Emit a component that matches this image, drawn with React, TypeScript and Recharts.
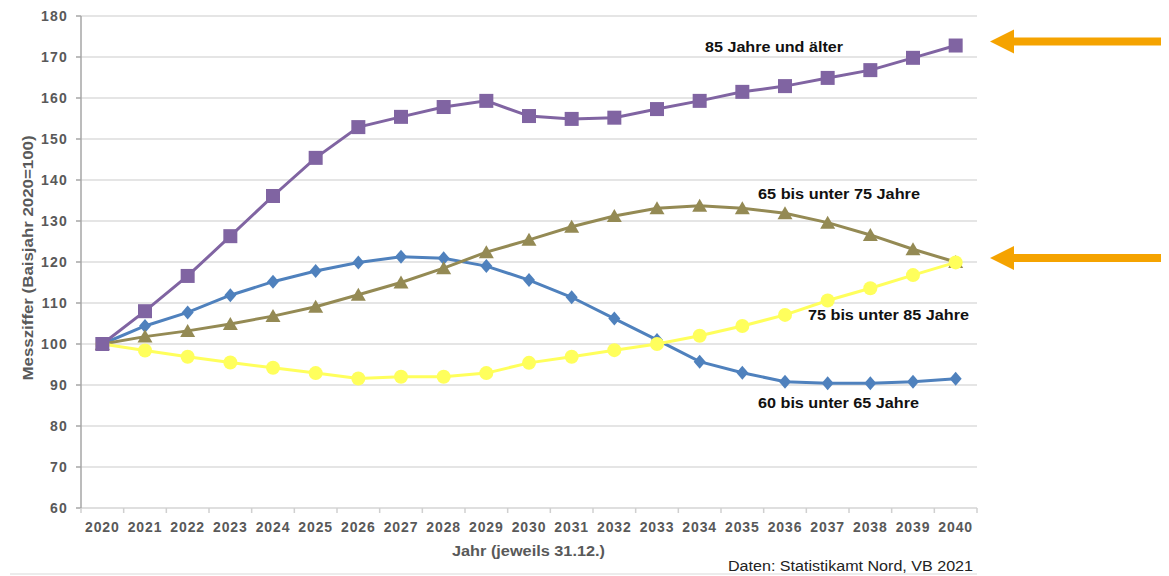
import React from 'react';
import { LineChart, Line, XAxis, YAxis, CartesianGrid } from 'recharts';

const years = ['2020','2021','2022','2023','2024','2025','2026','2027','2028','2029','2030','2031','2032','2033','2034','2035','2036','2037','2038','2039','2040'];
const s60bis65 = [100,104.4,107.7,111.9,115.2,117.8,119.9,121.3,120.9,119.0,115.6,111.4,106.2,101.0,95.7,93.0,90.8,90.4,90.4,90.8,91.5];
const s65bis75 = [100,101.8,103.2,104.9,106.8,109.1,112.0,115.0,118.5,122.4,125.4,128.6,131.2,133.1,133.7,133.1,131.9,129.6,126.6,123.1,120.0];
const s75bis85 = [100,98.4,96.9,95.5,94.2,92.9,91.6,92.0,92.0,92.9,95.4,96.9,98.5,100.0,102.0,104.4,107.1,110.6,113.6,116.8,119.9];
const s85plus = [100,108.0,116.6,126.3,136.1,145.4,152.9,155.4,157.8,159.3,155.6,154.9,155.2,157.3,159.3,161.5,162.9,164.9,166.8,169.8,172.8];
const yTicks = [60,70,80,90,100,110,120,130,140,150,160,170,180];

const data = years.map((y, i) => ({
  year: y,
  a: s60bis65[i],
  b: s65bis75[i],
  c: s75bis85[i],
  d: s85plus[i],
}));

const W = 1169;
const H = 576;
const PLOT_LEFT = 81;
const PLOT_RIGHT = 977;
const PLOT_TOP = 16;
const PLOT_BOTTOM = 508;
const BAND = (PLOT_RIGHT - PLOT_LEFT) / years.length;

const C_BLUE = '#4F81BD';
const C_OLIVE = '#948A54';
const C_YELLOW = '#FFFF5C';
const C_PURPLE = '#8064A2';
const C_ORANGE = '#F5A300';
const C_TEXT = '#595959';

const XTick = (props: any) => {
  const { x, y, payload, index } = props;
  return (
    <g>
      <line x1={x - BAND / 2} x2={x - BAND / 2} y1={y} y2={y + 5} stroke="#D0D0D0" strokeWidth={1.5} />
      {index === years.length - 1 && (
        <line x1={x + BAND / 2} x2={x + BAND / 2} y1={y} y2={y + 5} stroke="#D0D0D0" strokeWidth={1.5} />
      )}
      <text x={x} y={y + 19} textAnchor="middle" dominantBaseline="central" fill={C_TEXT}
        fontFamily="Liberation Sans, Arial, sans-serif" fontWeight="bold" fontSize={14} letterSpacing={0.9}>
        {payload.value}
      </text>
    </g>
  );
};

const YTick = (props: any) => {
  const { x, y, payload } = props;
  return (
    <text x={x} y={y} textAnchor="end" dominantBaseline="central" fill={C_TEXT}
      fontFamily="Liberation Sans, Arial, sans-serif" fontWeight="bold" fontSize={14} letterSpacing={1.2}>
      {payload.value}
    </text>
  );
};

const squareDot = (p: any) => (
  <rect key={`sq-${p.index}`} x={p.cx - 7} y={p.cy - 7} width={14} height={14} fill={C_PURPLE} />
);
const diamondDot = (p: any) => (
  <polygon key={`dm-${p.index}`} points={`${p.cx},${p.cy - 7} ${p.cx + 6},${p.cy} ${p.cx},${p.cy + 7} ${p.cx - 6},${p.cy}`} fill={C_BLUE} />
);
const triangleDot = (p: any) => (
  <polygon key={`tr-${p.index}`} points={`${p.cx},${p.cy - 7} ${p.cx + 7.5},${p.cy + 6} ${p.cx - 7.5},${p.cy + 6}`} fill={C_OLIVE} />
);
const circleDot = (p: any) => (
  <circle key={`ci-${p.index}`} cx={p.cx} cy={p.cy} r={7} fill={C_YELLOW} />
);

const labelStyle = {
  fontFamily: 'Liberation Sans, Arial, sans-serif',
  fontWeight: 'bold' as const,
  fontSize: 14,
};

const Arrow = ({ y }: { y: number }) => (
  <g>
    <rect x={1012} y={y - 4} width={149} height={8} fill={C_ORANGE} />
    <polygon points={`990,${y} 1014,${y - 12} 1014,${y + 12}`} fill={C_ORANGE} />
  </g>
);

export default function App() {
  return (
    <div style={{ position: 'absolute', left: 0, top: 0, width: W, height: H, background: '#fff' }}>
      <LineChart
        width={W}
        height={H}
        data={data}
        margin={{ top: PLOT_TOP, right: W - PLOT_RIGHT, bottom: 0, left: 0 }}
      >
        <CartesianGrid horizontal vertical={false} stroke="#DDDDDD" strokeWidth={1.5} />
        <XAxis
          dataKey="year"
          height={H - PLOT_BOTTOM}
          padding={{ left: BAND / 2, right: BAND / 2 }}
          axisLine={{ stroke: '#DDDDDD', strokeWidth: 1.5 }}
          tickLine={false}
          tickSize={0}
          tickMargin={0}
          interval={0}
          tick={<XTick />}
        />
        <YAxis
          width={PLOT_LEFT}
          domain={[60, 180]}
          ticks={yTicks}
          interval={0}
          axisLine={{ stroke: '#A6A6A6', strokeWidth: 1.5 }}
          tickLine={{ stroke: '#A6A6A6', strokeWidth: 1.5 }}
          tickSize={5}
          tickMargin={8}
          tick={<YTick />}
        />
        <Line type="linear" dataKey="a" stroke={C_BLUE} strokeWidth={3} dot={diamondDot} isAnimationActive={false} />
        <Line type="linear" dataKey="b" stroke={C_OLIVE} strokeWidth={3} dot={triangleDot} isAnimationActive={false} />
        <Line type="linear" dataKey="c" stroke={C_YELLOW} strokeWidth={3} dot={circleDot} isAnimationActive={false} />
        <Line type="linear" dataKey="d" stroke={C_PURPLE} strokeWidth={3} dot={squareDot} isAnimationActive={false} />
      </LineChart>
      <svg width={W} height={H} style={{ position: 'absolute', left: 0, top: 0, pointerEvents: 'none' }}>
        <text {...labelStyle} x={705} y={47} dominantBaseline="central" fill="#111" textLength={138} lengthAdjust="spacingAndGlyphs">85 Jahre und älter</text>
        <text {...labelStyle} x={758} y={194} dominantBaseline="central" fill="#111" textLength={162} lengthAdjust="spacingAndGlyphs">65 bis unter 75 Jahre</text>
        <text {...labelStyle} x={808} y={315} dominantBaseline="central" fill="#111" textLength={161} lengthAdjust="spacingAndGlyphs">75 bis unter 85 Jahre</text>
        <text {...labelStyle} x={758} y={403} dominantBaseline="central" fill="#111" textLength={161} lengthAdjust="spacingAndGlyphs">60 bis unter 65 Jahre</text>
        <text {...labelStyle} fontSize={14} x={0} y={0} transform="translate(28,258) rotate(-90)" textAnchor="middle" dominantBaseline="central" fill={C_TEXT} textLength={245} lengthAdjust="spacingAndGlyphs">Messziffer (Baisjahr 2020=100)</text>
        <text {...labelStyle} x={452} y={551} dominantBaseline="central" fill={C_TEXT} textLength={153} lengthAdjust="spacingAndGlyphs">Jahr (jeweils 31.12.)</text>
        <text fontFamily="Liberation Sans, Arial, sans-serif" fontSize={14} x={728} y={566} dominantBaseline="central" fill="#222" textLength={245} lengthAdjust="spacingAndGlyphs">Daten: Statistikamt Nord, VB 2021</text>
        <line x1={10} x2={977} y1={574} y2={574} stroke="#E6E6E6" strokeWidth={1.5} />
        <Arrow y={41.5} />
        <Arrow y={258} />
      </svg>
    </div>
  );
}
